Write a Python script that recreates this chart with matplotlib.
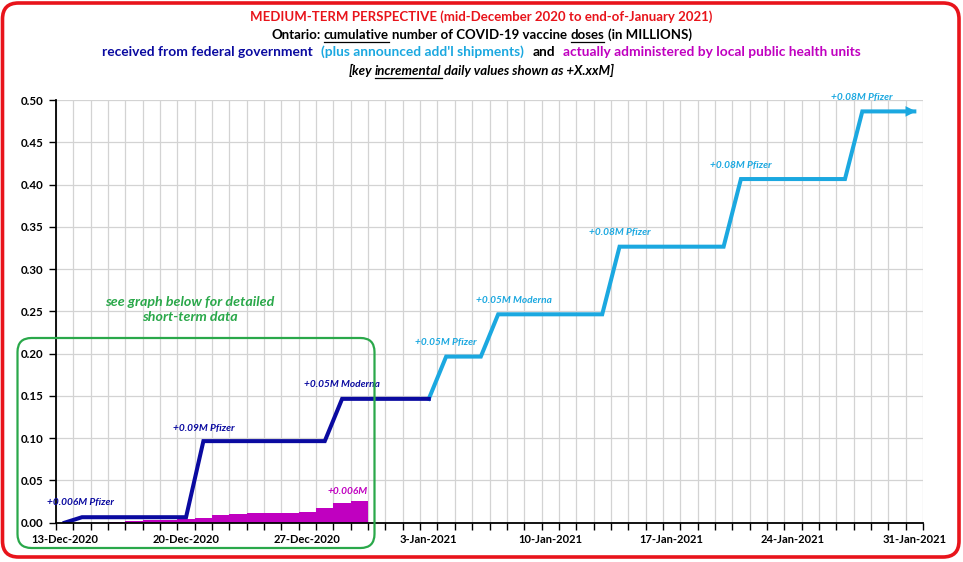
import pandas as pd
import matplotlib
matplotlib.use('Agg')
import matplotlib.pyplot as plt
from matplotlib.patches import FancyBboxPatch

plt.rcParams['font.family'] = ['Lato', 'DejaVu Sans']

# cumulative doses in millions, one value per day
axis_start = '2020-12-13'
axis_end = '2021-01-31'

received_start = '2020-12-13'   # received from federal government
received = [0.0] + [0.0065] * 7 + [0.0965] * 8 + [0.1465] * 6

planned_start = '2021-01-03'    # plus announced add'l shipments
planned = [0.1465] + [0.1965] * 3 + [0.2465] * 7 + [0.3265] * 7 + [0.4065] * 7 + [0.4865] * 4

admin_start = '2020-12-16'      # administered by public health units
administered = [0.0012, 0.0025, 0.003, 0.0032, 0.004, 0.0055, 0.009, 0.0106,
                0.0118, 0.0118, 0.0118, 0.0126, 0.0173, 0.0237, 0.0256]

tick_dates = ['2020-12-13', '2020-12-20', '2020-12-27', '2021-01-03',
              '2021-01-10', '2021-01-17', '2021-01-24', '2021-01-31']

# step labels: text, date, value, colour
notes = [
    ('+0.006M Pfizer', '2020-12-13', 0.024, '#0a0aa0'),
    ('+0.09M Pfizer', '2020-12-21', 0.112, '#0a0aa0'),
    ('+0.05M Moderna', '2020-12-29', 0.163, '#0a0aa0'),
    ('+0.006M', '2020-12-29', 0.037, '#c000c0'),
    ('+0.05M Pfizer', '2021-01-04', 0.213, '#1ba8e0'),
    ('+0.05M Moderna', '2021-01-07', 0.263, '#1ba8e0'),
    ('+0.08M Pfizer', '2021-01-14', 0.343, '#1ba8e0'),
    ('+0.08M Pfizer', '2021-01-21', 0.423, '#1ba8e0'),
    ('+0.08M Pfizer', '2021-01-28', 0.503, '#1ba8e0'),
]
note_dx = [0.9, 0.0, 0.0, 0.3, 0.0, 0.9, 0.0, 0.0, 0.0]

t0 = pd.Timestamp(axis_start)


def day(d):
    return (pd.Timestamp(d) - t0).days


def days_from(start, n):
    s = day(start)
    return list(range(s, s + n))


DARK = '#0a0aa0'
LIGHT = '#1ba8e0'
MAG = '#c000c0'
GREEN = '#2aa84a'

W, H = 963, 562
fig = plt.figure(figsize=(W / 100, H / 100), dpi=100)
ax = fig.add_axes([56 / W, (H - 522.7) / H, 867 / W, 422.7 / H])

n_days = day(axis_end) + 1
ax.set_xlim(-0.5, n_days - 0.5)
ax.set_ylim(0, 0.5)

# bars for doses administered
ax.bar(days_from(admin_start, len(administered)), administered, width=1.0,
       color=MAG, zorder=2)

ax.plot(days_from(planned_start, len(planned)), planned, color=LIGHT, lw=2.9,
        solid_joinstyle='miter', zorder=3)
ax.plot(days_from(received_start, len(received)), received, color=DARK, lw=2.9,
        solid_joinstyle='miter', zorder=4)
px = days_from(planned_start, len(planned))
ax.annotate('', xy=(px[-1] + 0.1, planned[-1]), xytext=(px[-2], planned[-2]),
            arrowprops=dict(arrowstyle='-|>', color=LIGHT, lw=0,
                            mutation_scale=19, shrinkA=0, shrinkB=0), zorder=5)

for (txt, d, v, c), dx in zip(notes, note_dx):
    ax.text(day(d) + dx, v, txt, color=c, fontsize=7.3, style='italic',
            fontweight='bold', ha='center', va='center', zorder=6)

# axes styling
ax.set_yticks([i * 0.05 for i in range(11)])
ax.set_yticklabels(['%.2f' % (i * 0.05) for i in range(11)],
                   fontweight='bold', fontsize=8.3)
ax.set_xticks([day(d) for d in tick_dates])
ax.set_xticklabels([pd.Timestamp(d).strftime('%-d-%b-%Y') for d in tick_dates],
                   fontweight='bold', fontsize=8)
ax.set_xticks([i - 0.5 for i in range(n_days + 1)], minor=True)
ax.tick_params(axis='x', which='major', length=0, pad=8)
ax.tick_params(axis='x', which='minor', length=5, width=1, direction='out')
ax.tick_params(axis='y', length=5, width=1, direction='out', pad=4)
ax.grid(axis='x', which='minor', color='#d3d3d3', lw=0.9)
ax.grid(axis='y', which='major', color='#d3d3d3', lw=0.9)
ax.set_axisbelow(True)
for s in ['top', 'right']:
    ax.spines[s].set_visible(False)
for s in ['left', 'bottom']:
    ax.spines[s].set_linewidth(1.3)
    ax.spines[s].set_zorder(5)

ax.text(day('2020-12-20') + 0.2, 0.252, 'see graph below for detailed\nshort-term data',
        color=GREEN, fontsize=10.3, style='italic', fontweight='bold',
        ha='center', va='center', linespacing=1.35)

# frames (in inches so the corners stay round)
fig.add_artist(FancyBboxPatch((0.025, 0.05), 9.565, 5.54,
                              boxstyle='round,pad=0,rounding_size=0.16',
                              transform=fig.dpi_scale_trans, fc='none',
                              ec='#e8141b', lw=2.6, zorder=10))
fig.add_artist(FancyBboxPatch((0.175, (H - 548) / 100), 3.57, 2.10,
                              boxstyle='round,pad=0,rounding_size=0.14',
                              transform=fig.dpi_scale_trans, fc='none',
                              ec=GREEN, lw=1.6, zorder=10))

# header lines with coloured / underlined pieces
renderer = fig.canvas.get_renderer()


def width_of(s, size, style):
    t = fig.text(0, 0, s, fontsize=size, fontweight='bold', style=style)
    w = t.get_window_extent(renderer).width
    t.remove()
    return w


def header_line(ypix, parts, size=9.5, style='normal', gap=1):
    sp = (width_of('a a', size, style) - width_of('aa', size, style)) * gap
    widths = [width_of(p[0], size, style) for p in parts]
    total = sum(widths) + sp * (len(parts) - 1)
    x = W / 2 - total / 2
    for (s, c, u), w in zip(parts, widths):
        fig.text(x / W, 1 - ypix / H, s, color=c, fontsize=size,
                 fontweight='bold', style=style, ha='left', va='baseline')
        if u:
            yl = 1 - (ypix + 2.5) / H
            fig.add_artist(plt.Line2D([x / W, (x + w) / W], [yl, yl],
                                      color=c, lw=0.9))
        x += w + sp


header_line(21, [('MEDIUM-TERM PERSPECTIVE (mid-December 2020 to end-of-January 2021)',
                  '#e8141b', False)])
header_line(39, [('Ontario:', 'black', False), ('cumulative', 'black', True),
                 ('number of COVID-19 vaccine', 'black', False), ('doses', 'black', True),
                 ('(in MILLIONS)', 'black', False)])
header_line(56, [('received from federal government', DARK, False),
                 ('(plus announced add\'l shipments)', LIGHT, False),
                 ('and', 'black', False),
                 ('actually administered by local public health units', MAG, False)],
            size=9.9, gap=2.5)
header_line(75, [('[key', 'black', False), ('incremental', 'black', True),
                 ('daily values shown as +X.xxM]', 'black', False)], style='italic')

fig.savefig('out.png', dpi=100)
